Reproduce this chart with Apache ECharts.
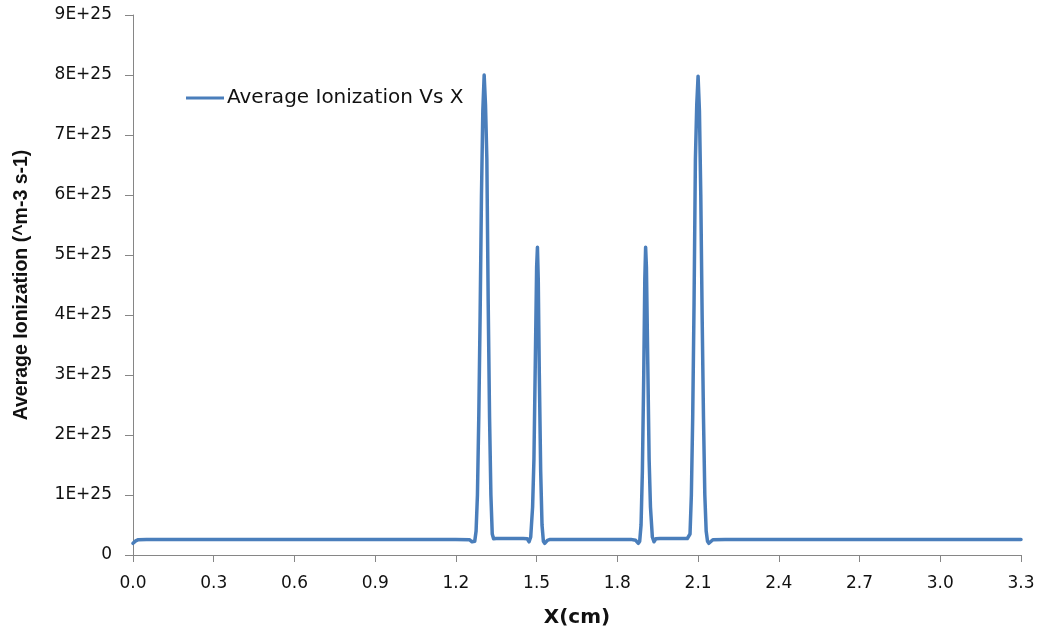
<!DOCTYPE html>
<html>
<head>
<meta charset="utf-8">
<script src="https://cdn.jsdelivr.net/npm/echarts@6/dist/echarts.min.js"></script>
<style>
html,body{margin:0;padding:0;background:#fff;}
#chart{width:1038px;height:633px;}
</style>
</head>
<body>
<div id="chart"></div>
<script>
// X positions (cm)
const xValues = [
  0, 0.01, 0.02, 0.05, 0.3, 0.6, 0.9, 1.2, 1.25, 1.26, 1.265, 1.27, 1.275, 1.28, 1.285, 1.29, 1.295, 1.3, 1.305, 1.31,
  1.315, 1.32, 1.325, 1.33, 1.335, 1.34, 1.35, 1.45, 1.465, 1.472, 1.478, 1.485, 1.49, 1.495, 1.5, 1.503, 1.506, 1.51,
  1.515, 1.52, 1.525, 1.53, 1.54, 1.55, 1.85, 1.868, 1.878, 1.883, 1.888, 1.893, 1.898, 1.902, 1.905, 1.908, 1.913,
  1.918, 1.923, 1.93, 1.936, 1.943, 1.958, 2.06, 2.065, 2.07, 2.075, 2.08, 2.085, 2.09, 2.095, 2.1, 2.105, 2.11, 2.115,
  2.12, 2.125, 2.13, 2.135, 2.14, 2.145, 2.155, 2.2, 2.7, 3.3
];
// Average ionization (m^-3 s^-1)
const ionization = [
  1.95e24, 2.35e24, 2.55e24, 2.6e24, 2.6e24, 2.6e24, 2.6e24, 2.6e24, 2.55e24, 2.2e24, 1.95e24, 2.3e24, 4e24, 1.0e25, 2.3e25, 4.0e25, 6.0e25, 7.4e25, 8.0e25, 7.5e25,
  6.6e25, 4.2e25, 2.3e25, 1.0e25, 3.5e24, 2.7e24, 2.75e24, 2.75e24, 2.7e24, 2.2e24, 3e24, 8e24, 1.6e25, 3.2e25, 4.8e25, 5.13e25, 4.6e25, 3.0e25,
  1.4e25, 5e24, 2.3e24, 1.95e24, 2.45e24, 2.6e24, 2.6e24, 2.45e24, 1.95e24, 2.3e24, 5e24, 1.4e25, 3.0e25, 4.6e25, 5.13e25, 4.8e25, 3.2e25,
  1.6e25, 8e24, 3e24, 2.2e24, 2.7e24, 2.75e24, 2.75e24, 2.7e24, 3.5e24, 1.0e25, 2.3e25, 4.2e25, 6.6e25, 7.5e25, 7.98e25, 7.4e25, 6.0e25, 4.0e25,
  2.3e25, 1.0e25, 4e24, 2.3e24, 1.95e24, 2.2e24, 2.55e24, 2.6e24, 2.6e24, 2.6e24
];
const seriesName = 'Average Ionization Vs X';
const xAxisTitle = 'X(cm)';
const yAxisTitle = 'Average Ionization (^m-3 s-1)';
const xMin = 0, xMax = 3.3, xStep = 0.3;
const yMin = 0, yMax = 9e25, yStep = 1e25;

const points = xValues.map((x, i) => [x, ionization[i]]);
const axisColor = '#868686';
const textColor = '#111111';

const chart = echarts.init(document.getElementById('chart'));
chart.setOption({
  animation: false,
  backgroundColor: '#ffffff',
  grid: { left: 133, right: 17, top: 15, bottom: 78, containLabel: false },
  legend: {
    left: 181, top: 83,
    icon: 'rect', itemWidth: 38, itemHeight: 3, itemGap: 10,
    textStyle: { fontFamily: 'DejaVu Sans', fontSize: 20, color: textColor, padding: [0, 0, 0, -2] },
    data: [seriesName]
  },
  xAxis: {
    type: 'value', min: xMin, max: xMax, interval: xStep,
    name: xAxisTitle, nameLocation: 'middle', nameGap: 53,
    nameTextStyle: { fontFamily: 'DejaVu Sans', fontWeight: 'bold', fontSize: 20, color: textColor },
    axisLine: { show: true, lineStyle: { color: axisColor, width: 1 } },
    axisTick: { show: true, inside: false, length: 7, lineStyle: { color: axisColor } },
    axisLabel: { margin: 20, fontFamily: 'DejaVu Sans', fontSize: 17, color: textColor, formatter: v => v.toFixed(1) },
    splitLine: { show: false }
  },
  yAxis: {
    type: 'value', min: yMin, max: yMax, interval: yStep,
    name: yAxisTitle, nameLocation: 'middle', nameGap: 101, nameRotate: 90,
    nameTextStyle: { fontFamily: 'Liberation Sans', fontWeight: 'bold', fontSize: 19.5, color: textColor },
    axisLine: { show: true, lineStyle: { color: axisColor, width: 1 } },
    axisTick: { show: true, inside: false, length: 8, lineStyle: { color: axisColor } },
    axisLabel: {
      margin: 21, fontFamily: 'DejaVu Sans', fontSize: 17, color: textColor,
      formatter: v => v === 0 ? '0' : (Math.round(v / 1e25) + 'E+25')
    },
    splitLine: { show: false }
  },
  series: [{
    name: seriesName,
    type: 'line',
    data: points,
    showSymbol: false,
    symbol: 'none',
    smooth: false,
    lineStyle: { color: '#4A7EBB', width: 3.5, join: 'round', cap: 'round' },
    itemStyle: { color: '#4A7EBB' }
  }]
});
</script>
</body>
</html>
